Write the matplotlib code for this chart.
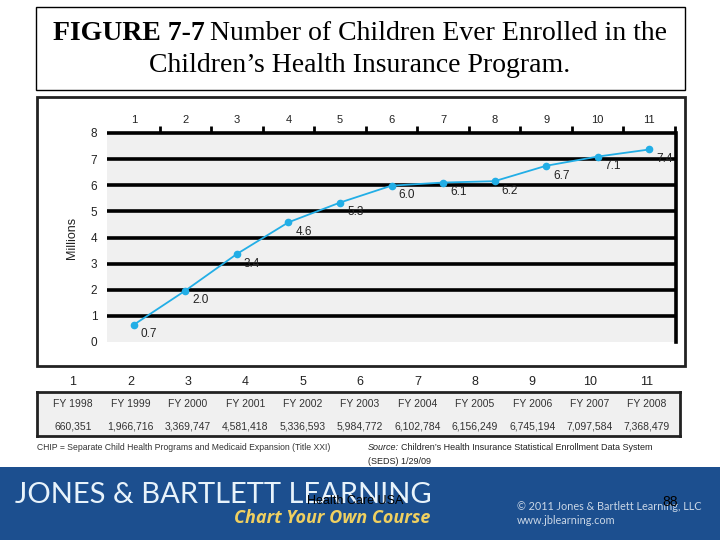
import matplotlib.pyplot as plt
from matplotlib.patches import Rectangle

W, H = 720, 540

# data
point_index = list(range(1, 12))
fiscal_years = ["FY 1998", "FY 1999", "FY 2000", "FY 2001", "FY 2002", "FY 2003",
                "FY 2004", "FY 2005", "FY 2006", "FY 2007", "FY 2008"]
enrolled = [660351, 1966716, 3369747, 4581418, 5336593, 5984772,
            6102784, 6156249, 6745194, 7097584, 7368479]
millions = [v / 1e6 for v in enrolled]
y_ticks = list(range(0, 9))

sans = ["Liberation Sans", "DejaVu Sans"]
serif = ["Liberation Serif", "DejaVu Serif"]
line_blue = "#22aee6"


def box(x0, y0, x1, y1):
    # pixel box (top-left origin) -> figure fraction rect
    return [x0 / W, 1 - y1 / H, (x1 - x0) / W, (y1 - y0) / H]


def fx(x):
    return x / W


def fy(y):
    return 1 - y / H


fig = plt.figure(figsize=(W / 100, H / 100), dpi=100)
fig.patch.set_facecolor("white")

# title frame + chart frame
fig.add_artist(Rectangle((fx(36), fy(90)), 649 / W, 83 / H, transform=fig.transFigure,
                         fill=False, lw=1, ec="black"))
fig.add_artist(Rectangle((fx(37), fy(366)), 648 / W, 269 / H, transform=fig.transFigure,
                         fill=False, lw=2, ec="#222222"))

# title, first line has a bold lead
renderer = fig.canvas.get_renderer()
t_bold = fig.text(0, fy(33), "FIGURE 7-7", family=serif, weight="bold", fontsize=20,
                  va="center", ha="left")
t_rest = fig.text(0, fy(33), "Number of Children Ever Enrolled in the", family=serif,
                  fontsize=20, va="center", ha="left")
w1 = t_bold.get_window_extent(renderer).width
w2 = t_rest.get_window_extent(renderer).width
gap = 6
x0 = 360 - (w1 + gap + w2) / 2
t_bold.set_x(fx(x0))
t_rest.set_x(fx(x0 + w1 + gap))
fig.text(0.5, fy(66), "Children\u2019s Health Insurance Program.", family=serif, fontsize=20,
         ha="center", va="center")

# main chart
ax = fig.add_axes(box(107, 133, 676, 342))
ax.set_facecolor("#f0f0f0")
ax.set_xlim(0.48, 11.52)
ax.set_ylim(0, 8)
ax.hlines(y_ticks[1:], 0.48, 11.52, color="black", lw=2.6, zorder=2, clip_on=False)
for s in ["left", "top", "bottom"]:
    ax.spines[s].set_visible(False)
ax.spines["right"].set_linewidth(2.6)
ax.spines["right"].set_color("black")

ax.plot(point_index, millions, color=line_blue, lw=1.3, marker="o", markersize=4.5,
        zorder=3)
for x, v in zip(point_index, millions):
    ax.annotate(f"{v:.1f}", (x, v), xytext=(11, -7), textcoords="offset points",
                ha="center", va="center", fontsize=8.5, family=sans, color="#222222")

ax.set_yticks(y_ticks)
ax.set_yticklabels([str(t) for t in y_ticks], family=sans, fontsize=8.5, color="#222222")
ax.tick_params(axis="y", length=0, pad=7)

ax.xaxis.tick_top()
ax.set_xticks(point_index)
ax.set_xticklabels([str(i) for i in point_index], family=sans, fontsize=8, color="#222222")
ax.set_xticks([i + 0.5 for i in point_index], minor=True)
ax.tick_params(axis="x", which="major", length=0, pad=6, top=True, bottom=False)
ax.tick_params(axis="x", which="minor", length=5, width=2, color="black",
               top=True, bottom=False)
ax.set_ylabel("Millions", family=sans, fontsize=9, color="#222222", va="center")
ax.yaxis.set_label_coords(-0.0615, 0.5)

# table under the chart
tab = fig.add_axes(box(37, 392, 680, 436))
tab.set_facecolor("#f0f0f0")
tab.set_xlim(0.373, 11.575)
tab.set_ylim(0, 1)
tab.set_xticks([])
tab.set_yticks([])
for s in tab.spines.values():
    s.set_linewidth(2)
    s.set_color("#222222")
for x, fyr, n in zip(point_index, fiscal_years, enrolled):
    tab.text(x, 1.227, str(x), ha="center", va="center", fontsize=9, family=sans,
             color="#222222", clip_on=False)
    tab.text(x, 0.727, fyr, ha="center", va="center", fontsize=7.5, family=sans,
             color="#333333")
    tab.text(x, 0.205, f"{n:,}", ha="center", va="center", fontsize=7.5, family=sans,
             color="#333333")

# notes
fig.text(fx(37), fy(448), "CHIP = Separate Child Health Programs and Medicaid Expansion (Title XXI)",
         family=sans, fontsize=6.2, color="#333333", va="center", ha="left")
t_src = fig.text(fx(368), fy(448), "Source:", family=sans, style="italic", fontsize=6.5,
                 color="#222222", va="center", ha="left")
ws = t_src.get_window_extent(renderer).width
fig.text(fx(368 + ws + 2), fy(448),
         "Children\u2019s Health Insurance Statistical Enrollment Data System",
         family=sans, fontsize=6.5, color="#222222", va="center", ha="left")
fig.text(fx(368), fy(461), "(SEDS) 1/29/09", family=sans, fontsize=6.5, color="#222222",
         va="center", ha="left")

# publisher banner
fig.add_artist(Rectangle((0, 0), 1, (H - 467) / H, transform=fig.transFigure,
                         fc="#1c4f8f", ec="none"))
fig.text(fx(15), fy(495), "JONES & BARTLETT LEARNING", family=["Lato", "DejaVu Sans"],
         fontsize=21, color="#e8f3fb", va="center", ha="left")
fig.text(fx(430), fy(518), "Chart Your Own Course", family=["Open Sans", "DejaVu Sans"],
         weight="bold", style="italic", fontsize=13, color="#f0d060", va="center", ha="right")
fig.text(fx(307), fy(501), "Health Care USA", family=sans, fontsize=9, color="black",
         va="center", ha="left")
fig.text(fx(517), fy(506), "\u00a9 2011 Jones & Bartlett Learning, LLC",
         family=["Lato", "DejaVu Sans"], fontsize=7.8, color="#c9d6e6", va="center", ha="left")
fig.text(fx(517), fy(521), "www.jblearning.com", family=["Lato", "DejaVu Sans"],
         fontsize=7.8, color="#c9d6e6", va="center", ha="left")
fig.text(fx(670), fy(502), "88", family=sans, fontsize=10, color="black",
         va="center", ha="center")

fig.savefig("out.png", dpi=100)
